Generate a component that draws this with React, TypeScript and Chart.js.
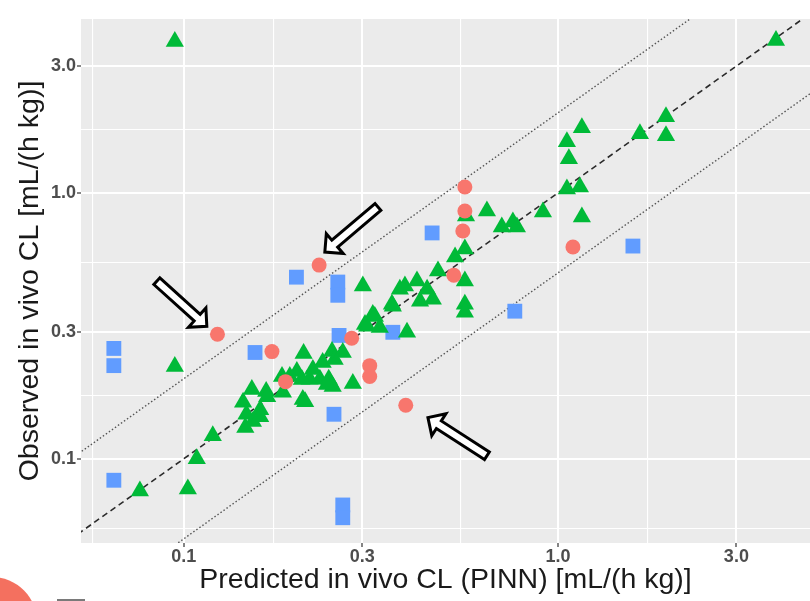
import React, { useEffect, useRef } from 'react';
import { Chart, registerables } from 'chart.js';

Chart.register(...registerables);

// ---- data (predicted x, observed y) ----
const circleX = [0.123, 0.172, 0.187, 0.230, 0.281, 0.314, 0.314, 0.392, 0.527, 0.557, 0.564, 0.564, 1.097];
const circleY = [0.294, 0.253, 0.195, 0.535, 0.284, 0.224, 0.204, 0.159, 0.490, 0.719, 0.855, 1.053, 0.626];

const squareX = [0.065, 0.065, 0.065, 0.155, 0.200, 0.258, 0.258, 0.260, 0.252, 0.266, 0.266, 0.362, 0.461, 0.767, 1.587];
const squareY = [0.260, 0.224, 0.083, 0.251, 0.482, 0.462, 0.412, 0.291, 0.147, 0.067, 0.060, 0.299, 0.707, 0.359, 0.631];

const triangleX = [0.0946, 3.828, 0.0946, 0.0763, 0.1025, 0.1083, 0.1195, 0.144, 0.147, 0.146, 0.153, 0.152, 0.160, 0.160, 0.166, 0.167, 0.183, 0.184, 0.192, 0.2005, 0.209, 0.208, 0.211, 0.217, 0.231, 0.235, 0.244, 0.246, 0.249, 0.250, 0.253, 0.266, 0.283, 0.301, 0.305, 0.309, 0.320, 0.324, 0.334, 0.360, 0.362, 0.378, 0.390, 0.395, 0.420, 0.428, 0.447, 0.463, 0.478, 0.531, 0.564, 0.568, 0.564, 0.564, 0.564, 0.646, 0.708, 0.758, 0.777, 0.912, 1.057, 1.070, 1.159, 1.057, 1.145, 1.159, 1.657, 1.945, 1.945, 0.2213, 0.2068, 0.2413];
const triangleY = [0.2225, 3.747, 3.714, 0.0757, 0.077, 0.100, 0.122, 0.163, 0.147, 0.131, 0.138, 0.182, 0.153, 0.144, 0.179, 0.171, 0.204, 0.178, 0.204, 0.213, 0.249, 0.167, 0.164, 0.199, 0.199, 0.230, 0.199, 0.194, 0.253, 0.187, 0.236, 0.251, 0.192, 0.446, 0.320, 0.315, 0.349, 0.343, 0.312, 0.381, 0.375, 0.434, 0.446, 0.299, 0.466, 0.391, 0.434, 0.398, 0.508, 0.574, 0.615, 0.819, 0.466, 0.381, 0.356, 0.855, 0.744, 0.777, 0.744, 0.848, 1.558, 1.344, 1.760, 1.035, 1.053, 0.812, 1.670, 1.936, 1.641, 0.2168, 0.1987, 0.1902];

// reference lines: y = ratio * x
const refRatios = [1, 2, 0.5];
const refRange = [0.03, 8];

// axis ticks
const majorTicks = [0.1, 0.3, 1.0, 3.0];
const xMinorTicks = [0.057, 0.1732, 0.5477, 1.732];
const yMinorTicks = [0.0548, 0.1732, 0.5477, 1.732];
const xRange = [0.0531, 4.72];
const yRange = [0.0482, 4.51];

// annotation arrows: [x, y] in data units
const arrowTails = [
  [0.0847, 0.4656],
  [0.3303, 0.8855],
  [0.6459, 0.1026],
];
const arrowTips = [
  [0.1152, 0.3148],
  [0.2382, 0.5990],
  [0.4493, 0.1428],
];

const xTitle = 'Predicted in vivo CL (PINN) [mL/(h kg)]';
const yTitle = 'Observed in vivo CL [mL/(h kg)]';

const FONT = "'Liberation Sans', Arial, Helvetica, sans-serif";

const toPts = (xs: number[], ys: number[]) => xs.map((x, i) => ({ x, y: ys[i] }));

const isMajor = (v: number) => majorTicks.some((m) => Math.abs(m - v) < 1e-9);

const panelPlugin = {
  id: 'panelBg',
  beforeDraw(chart: any) {
    const { ctx, chartArea } = chart;
    ctx.save();
    ctx.fillStyle = '#EBEBEB';
    ctx.fillRect(chartArea.left, chartArea.top, chartArea.right - chartArea.left, chartArea.bottom - chartArea.top);
    ctx.restore();
  },
};

const arrowPlugin = {
  id: 'arrows',
  afterDatasetsDraw(chart: any) {
    const { ctx, scales } = chart;
    const xs = scales.x;
    const ys = scales.y;
    ctx.save();
    arrowTails.forEach((t, i) => {
      const tip = arrowTips[i];
      const x0 = xs.getPixelForValue(t[0]);
      const y0 = ys.getPixelForValue(t[1]);
      const x1 = xs.getPixelForValue(tip[0]);
      const y1 = ys.getPixelForValue(tip[1]);
      const dx = x1 - x0;
      const dy = y1 - y0;
      const L = Math.hypot(dx, dy);
      const ux = dx / L;
      const uy = dy / L;
      const vx = -uy;
      const vy = ux;
      const hl = 13;
      const hw = 13;
      const sw = 4.5;
      const pt = (u: number, v: number) => [x0 + ux * u + vx * v, y0 + uy * u + vy * v];
      const poly = [
        pt(0, -sw),
        pt(L - hl, -sw),
        pt(L - hl, -hw),
        pt(L, 0),
        pt(L - hl, hw),
        pt(L - hl, sw),
        pt(0, sw),
      ];
      ctx.beginPath();
      poly.forEach((p, k) => (k === 0 ? ctx.moveTo(p[0], p[1]) : ctx.lineTo(p[0], p[1])));
      ctx.closePath();
      ctx.fillStyle = '#ffffff';
      ctx.fill();
      ctx.lineWidth = 3;
      ctx.lineJoin = 'miter';
      ctx.strokeStyle = '#000000';
      ctx.stroke();
    });
    ctx.restore();
  },
};

export default function App() {
  const canvasRef = useRef<HTMLCanvasElement | null>(null);

  useEffect(() => {
    if (!canvasRef.current) return;
    const refStyles = [
      { color: '#2b2b2b', width: 1.6, dash: [6, 4] },
      { color: '#555555', width: 1.4, dash: [1.5, 2.2] },
      { color: '#555555', width: 1.4, dash: [1.5, 2.2] },
    ];
    const refDatasets = refRatios.map((r, i) => ({
      type: 'line' as const,
      data: refRange.map((x) => ({ x, y: x * r })),
      borderColor: refStyles[i].color,
      borderWidth: refStyles[i].width,
      borderDash: refStyles[i].dash,
      pointRadius: 0,
      showLine: true,
      fill: false,
      order: 10,
    }));

    const makeTicks = (minor: number[]) => (scale: any) => {
      scale.ticks = [...minor, ...majorTicks].sort((a, b) => a - b).map((v) => ({ value: v }));
    };

    const gridOpts = {
      color: '#ffffff',
      lineWidth: (c: any) => (c.tick && isMajor(c.tick.value) ? 2 : 1.1),
      tickColor: (c: any) => (c.tick && isMajor(c.tick.value) ? '#333333' : 'rgba(0,0,0,0)'),
      tickLength: 4,
      tickWidth: 1.2,
      drawTicks: true,
    };

    const tickFont = { family: FONT, size: 18, weight: 'bold' as const, lineHeight: 1 };
    const titleFont = { family: FONT, size: 28.5, lineHeight: 1.2 };

    const chart = new Chart(canvasRef.current, {
      type: 'scatter',
      data: {
        datasets: [
          {
            data: toPts(circleX, circleY),
            pointStyle: 'circle',
            pointRadius: 7.5,
            backgroundColor: '#F8766D',
            borderColor: '#F8766D',
            borderWidth: 0,
            order: 1,
          },
          {
            data: toPts(triangleX, triangleY),
            pointStyle: 'triangle',
            pointRadius: 10.5,
            backgroundColor: '#00BA38',
            borderColor: '#00BA38',
            borderWidth: 0,
            order: 2,
          },
          {
            data: toPts(squareX, squareY),
            pointStyle: 'rect',
            pointRadius: 10.5,
            backgroundColor: '#619CFF',
            borderColor: '#619CFF',
            borderWidth: 0,
            order: 3,
          },
          ...refDatasets,
        ] as any,
      },
      options: {
        animation: false,
        responsive: false,
        devicePixelRatio: 1,
        layout: { autoPadding: false, padding: { top: 19, right: 0, bottom: 0, left: 0 } },
        plugins: {
          legend: { display: false },
          tooltip: { enabled: false },
        },
        scales: {
          x: {
            type: 'logarithmic',
            min: xRange[0],
            max: xRange[1],
            afterBuildTicks: makeTicks(xMinorTicks),
            afterFit: (s: any) => {
              s.height = 58;
              s.paddingLeft = 0;
              s.paddingRight = 0;
            },
            border: { display: false },
            grid: gridOpts as any,
            ticks: {
              autoSkip: false,
              maxRotation: 0,
              padding: 1,
              color: '#4D4D4D',
              font: tickFont,
              callback: (v: any) => (isMajor(Number(v)) ? Number(v).toFixed(1) : ''),
            },
            title: {
              display: true,
              text: xTitle,
              color: '#1a1a1a',
              font: titleFont,
              padding: { top: 0, bottom: 4 },
            },
          },
          y: {
            type: 'logarithmic',
            min: yRange[0],
            max: yRange[1],
            afterBuildTicks: makeTicks(yMinorTicks),
            afterFit: (s: any) => {
              s.width = 81;
              s.paddingTop = 0;
              s.paddingBottom = 0;
            },
            border: { display: false },
            grid: gridOpts as any,
            ticks: {
              autoSkip: false,
              padding: 1,
              color: '#4D4D4D',
              font: tickFont,
              callback: (v: any) => (isMajor(Number(v)) ? Number(v).toFixed(1) : ''),
            },
            title: {
              display: true,
              text: yTitle,
              color: '#1a1a1a',
              font: titleFont,
              padding: { top: 13, bottom: 0 },
            },
          },
        },
      } as any,
      plugins: [panelPlugin, arrowPlugin],
    });
    return () => chart.destroy();
  }, []);

  return (
    <div style={{ position: 'fixed', left: 0, top: 0, width: 810, height: 601, background: '#ffffff', overflow: 'hidden' }}>
      <canvas ref={canvasRef} width={810} height={601} style={{ display: 'block' }} />
      <div
        style={{
          position: 'absolute',
          left: -53,
          top: 577,
          width: 90,
          height: 90,
          borderRadius: '50%',
          background: '#F4705F',
        }}
      />
      <div style={{ position: 'absolute', left: 57, top: 599, width: 28, height: 2, background: '#7a7a7a' }} />
    </div>
  );
}
